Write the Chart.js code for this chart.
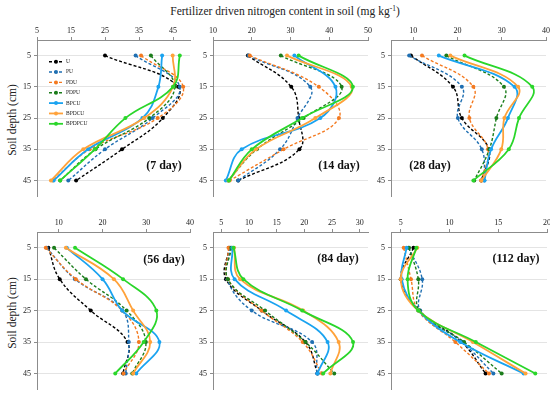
<!DOCTYPE html>
<html>
<head>
<meta charset="utf-8">
<script src="https://cdn.jsdelivr.net/npm/chart.js@4.4.1/dist/chart.umd.min.js"></script>
<style>
  body { margin: 0; background: #fff; }
  #wrap { position: relative; width: 550px; height: 398px; overflow: hidden; background: #fff; font-family: "Liberation Serif", "Times New Roman", serif; }
  #title { position: absolute; left: 285px; top: 11px; transform: translate(-50%, -50%); font-size: 11.5px; white-space: nowrap; color: #222; }
  #title sup { font-size: 0.65em; vertical-align: 0.5em; line-height: 0; }
  .ytitle { position: absolute; transform: translate(-50%, -50%) rotate(-90deg); font-size: 11.5px; white-space: nowrap; color: #222; }
  canvas { position: absolute; }
</style>
</head>
<body>
<div id="wrap">
  <div id="title">Fertilizer driven nitrogen content in soil (mg kg<sup>-1</sup>)</div>
  <div class="ytitle" style="left:12px;top:120px">Soil depth (cm)</div>
  <div class="ytitle" style="left:12px;top:313px">Soil depth (cm)</div>
</div>
<script>
const depths = [5, 15, 25, 35, 45]
const depthTicks = [5, 15, 25, 35, 45]
const seriesNames = ['U', 'PU', 'PDU', 'PDPU', 'BPCU', 'BPDCU', 'BPDPCU']

// rows follow seriesNames, columns follow depths
const day7 = [
    [25, 46.5, 42, 30, 16.5],
    [34, 47, 39, 25, 14.2],
    [35.6, 48, 40.5, 20.5, 9.6],
    [38.5, 45.5, 38, 22.2, 11.8],
    [41.8, 40.7, 36, 20, 9.9],
    [44.9, 45, 36.5, 18.6, 9.1],
    [47, 45, 31, 22, 11.8]
]
const day14 = [
    [19, 30.2, 32.1, 32.3, 16.5],
    [19.2, 35.1, 31.8, 27.3, 16.5],
    [19.5, 37.3, 42.5, 28.2, 14.3],
    [27.5, 43.2, 33.4, 21.3, 13.9],
    [31, 41.6, 37.7, 17.4, 13.3],
    [29.1, 45.8, 36.4, 21.1, 14],
    [32.1, 46.1, 33, 20, 14.1]
]
const day28 = [
    [9.5, 19, 21, 27.1, 25.4],
    [9.1, 21, 20.1, 25.5, 26.1],
    [12, 23.6, 22.7, 26.9, 25.4],
    [17.5, 30.5, 28.8, 27.2, 23.8],
    [15.8, 32.9, 31.4, 27.6, 26.1],
    [18.4, 33.7, 30.6, 29.9, 25.4],
    [21.6, 36.9, 33.9, 31.6, 23.6]
]
const day56 = [
    [7.6, 10.2, 17.3, 25.7, 24.7],
    [7.2, 13.7, 24.5, 26, 25.3],
    [7, 13.9, 24.5, 28.3, 24.8],
    [8.9, 16.2, 25.5, 29.9, 26.8],
    [11.8, 20, 24.5, 33, 27.7],
    [11.6, 22.6, 27, 30.9, 27],
    [13.7, 24.7, 32.3, 29.4, 22.9]
]
const day84 = [
    [6.4, 5.85, 12.3, 20.2, 22.4],
    [6.6, 6.1, 10.5, 21.4, 22.3],
    [6.3, 6.2, 12.3, 19.7, 23.2],
    [6.8, 6.2, 12.9, 20.2, 25.4],
    [7, 7.4, 16.7, 24.2, 22.4],
    [7.3, 8.4, 19.8, 26.2, 24.7],
    [7.2, 9, 19.6, 28.8, 23.4]
]
const day112 = [
    [6.3, 5, 6.9, 11.25, 13.7],
    [5.8, 7.2, 7, 11.3, 14.5],
    [5.3, 6.05, 6.8, 10.6, 14.05],
    [5.85, 6.8, 6.9, 11.5, 15.35],
    [5.6, 5.1, 6.8, 11.1, 17.6],
    [6.7, 5, 6.8, 12.4, 17.8],
    [6.6, 5.7, 6.8, 12.7, 18.8]
]

const xTicks7 = [5, 15, 25, 35, 45]
const xTicks14 = [10, 20, 30, 40, 50]
const xTicks28 = [10, 20, 30, 40]
const xTicks56 = [10, 20, 30, 40]
const xTicks84 = [5, 10, 15, 20, 25, 30]
const xTicks112 = [5, 10, 15, 20]

const colors = ['#000000', '#1f6fb2', '#f47a20', '#1b7d1b', '#1aa3f0', '#ffa23a', '#2ad62a']
const dashed = [true, true, true, true, false, false, false]

const panels = [
    { data: day7, name: '(7 day)', min: 5, max: 50, ticks: xTicks7, L: 37, R: 190, T: 40, B: 201, lx: 164, ly: 166, legend: true },
    { data: day14, name: '(14 day)', min: 10, max: 50, ticks: xTicks14, L: 213, R: 368, T: 40, B: 201, lx: 339, ly: 166 },
    { data: day28, name: '(28 day)', min: 5, max: 40, ticks: xTicks28, L: 391, R: 546, T: 40, B: 201, lx: 430, ly: 166 },
    { data: day56, name: '(56 day)', min: 5, max: 40, ticks: xTicks56, L: 37, R: 190, T: 232, B: 394, lx: 164, ly: 260 },
    { data: day84, name: '(84 day)', min: 3.5, max: 31.5, ticks: xTicks84, L: 213, R: 368, T: 232, B: 394, lx: 338, ly: 259 },
    { data: day112, name: '(112 day)', min: 4, max: 20, ticks: xTicks112, L: 391, R: 547, T: 232, B: 394, lx: 516, ly: 259 }
]

const AXW = 34, AXH = 22, PADR = 10, PADB = 3
const tickFont = { family: 'Liberation Serif', size: 8 }
const wrap = document.getElementById('wrap')

panels.forEach(p => {
    const canv = document.createElement('canvas')
    const left = p.L - AXW, top = p.T - AXH
    canv.width = p.R - p.L + AXW + PADR
    canv.height = p.B - p.T + AXH + PADB
    canv.style.left = left + 'px'
    canv.style.top = top + 'px'
    wrap.appendChild(canv)

    const datasets = p.data.map((vals, i) => ({
        label: seriesNames[i],
        data: vals.map((v, j) => ({ x: v, y: depths[j] })),
        showLine: true,
        borderColor: colors[i],
        backgroundColor: colors[i],
        borderWidth: dashed[i] ? 1.4 : 1.8,
        borderDash: dashed[i] ? [3, 2] : [],
        tension: 0.4,
        pointRadius: 2,
        pointBorderWidth: 0,
        order: 7 - i
    }))

    const panelText = {
        id: 'panelText',
        afterDatasetsDraw(chart) {
            const c = chart.ctx
            c.save()
            c.fillStyle = '#111'
            c.font = 'bold 12px "Liberation Serif"'
            c.textAlign = 'center'
            c.textBaseline = 'middle'
            c.fillText(p.name, p.lx - left, p.ly - top)
            if (p.legend) {
                c.font = '5.5px "Liberation Serif"'
                c.textAlign = 'left'
                seriesNames.forEach((n, i) => {
                    const y = 61.7 + i * 10.35 - top
                    c.strokeStyle = colors[i]
                    c.fillStyle = colors[i]
                    c.lineWidth = dashed[i] ? 1.4 : 1.8
                    c.setLineDash(dashed[i] ? [3, 2] : [])
                    c.beginPath()
                    c.moveTo(49 - left, y)
                    c.lineTo(63 - left, y)
                    c.stroke()
                    c.beginPath()
                    c.arc(56 - left, y, 2, 0, Math.PI * 2)
                    c.fill()
                    c.fillStyle = '#222'
                    c.fillText(n, 66 - left, y)
                })
            }
            c.restore()
        }
    }

    new Chart(canv, {
        type: 'scatter',
        data: { datasets },
        options: {
            responsive: false,
            devicePixelRatio: 1,
            animation: false,
            events: [],
            layout: { padding: { left: 0, top: 0, right: PADR, bottom: PADB } },
            plugins: { legend: { display: false }, tooltip: { enabled: false } },
            scales: {
                x: {
                    type: 'linear',
                    position: 'top',
                    min: p.min,
                    max: p.max,
                    afterBuildTicks: s => { s.ticks = p.ticks.map(v => ({ value: v })) },
                    afterFit: s => { s.height = AXH },
                    ticks: { font: tickFont, color: '#222', padding: 1, autoSkip: false, maxRotation: 0 },
                    grid: { drawOnChartArea: false, tickLength: 3, color: '#8c8c8c' },
                    border: { color: '#8c8c8c' }
                },
                y: {
                    type: 'linear',
                    reverse: true,
                    min: 0,
                    max: 50,
                    afterBuildTicks: s => { s.ticks = depthTicks.map(v => ({ value: v })) },
                    afterFit: s => { s.width = AXW },
                    ticks: { font: tickFont, color: '#222', padding: 3, autoSkip: false },
                    grid: { color: '#e4e4e4', tickColor: '#8c8c8c', tickLength: 3 },
                    border: { color: '#8c8c8c' }
                }
            }
        },
        plugins: [panelText]
    })
})
</script>
</body>
</html>
